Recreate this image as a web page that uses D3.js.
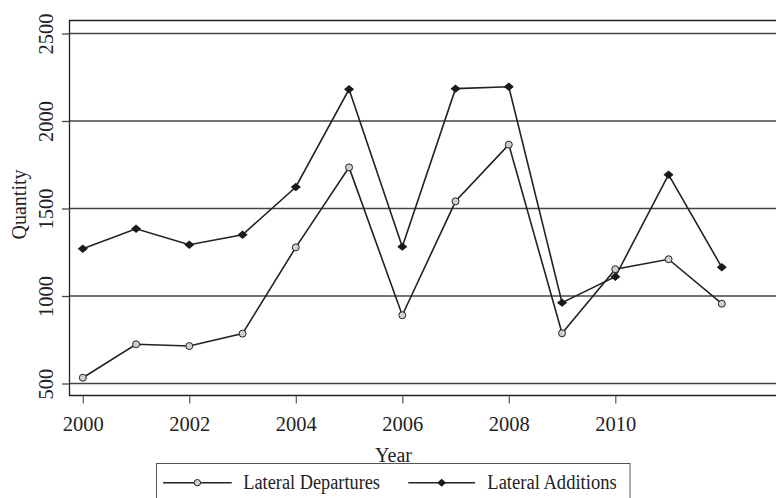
<!DOCTYPE html>
<html>
<head>
<meta charset="utf-8">
<script src="https://cdn.jsdelivr.net/npm/d3@7"></script>
<style>
  html, body { margin: 0; padding: 0; background: #fff; }
  svg text { font-family: "Liberation Serif", "Times New Roman", serif; fill: #222; }
</style>
</head>
<body>
<svg id="chart" width="776" height="498"></svg>
<script>
const years = [2000, 2001, 2002, 2003, 2004, 2005, 2006, 2007, 2008, 2009, 2010, 2011, 2012];
const lateralDepartures = [533, 724, 714, 785, 1278, 1735, 890, 1541, 1865, 787, 1153, 1210, 956];
const lateralAdditions = [1270, 1384, 1293, 1350, 1623, 2181, 1282, 2185, 2196, 962, 1110, 1693, 1164];
const xTicks = [2000, 2002, 2004, 2006, 2008, 2010];
const yTicks = [500, 1000, 1500, 2000, 2500];
const seriesNames = ["Lateral Departures", "Lateral Additions"];

const svg = d3.select("#chart");
const frame = { left: 69.5, top: 20.5, bottom: 395.5, right: 776 };

const x = d3.scaleLinear().domain([2000, 2010]).range([82.8, 615.3]);
const y = d3.scaleLinear().domain([500, 2500]).range([383.5, 33.5]);

// gridlines
svg.append("g").selectAll("line").data(yTicks).join("line")
  .attr("x1", frame.left).attr("x2", frame.right)
  .attr("y1", d => y(d)).attr("y2", d => y(d))
  .attr("stroke", "#444").attr("stroke-width", 1.3);

// frame
svg.append("path")
  .attr("d", `M${frame.right},${frame.top}H${frame.left}V${frame.bottom}H${frame.right}`)
  .attr("fill", "none").attr("stroke", "#222").attr("stroke-width", 1.3);

// y axis
const yAxis = d3.axisLeft(y).tickValues(yTicks).tickSize(7.5).tickPadding(0).tickFormat(d3.format("d"));
const gy = svg.append("g").attr("transform", `translate(${frame.left},0)`).call(yAxis);
gy.select(".domain").remove();
gy.selectAll(".tick line").attr("stroke", "#444").attr("stroke-width", 1.3);
gy.selectAll(".tick text")
  .attr("x", 0).attr("dy", null).attr("y", 0)
  .attr("transform", "translate(-16.5,0) rotate(-90)")
  .attr("text-anchor", "middle")
  .attr("font-size", 20.5).attr("font-family", "Liberation Serif").attr("fill", "#222");

// x axis
const xAxis = d3.axisBottom(x).tickValues(xTicks).tickSize(8).tickPadding(4).tickFormat(d3.format("d"));
const gx = svg.append("g").attr("transform", `translate(0,${frame.bottom})`).call(xAxis);
gx.select(".domain").remove();
gx.selectAll(".tick line").attr("stroke", "#555").attr("stroke-width", 1.2);
gx.selectAll(".tick text")
  .attr("dy", null).attr("y", 35.5)
  .attr("font-size", 20.5).attr("font-family", "Liberation Serif").attr("fill", "#222");

// axis titles
svg.append("text").attr("x", 393.5).attr("y", 461.5).attr("text-anchor", "middle")
  .attr("font-size", 20).text("Year");
svg.append("text").attr("transform", "translate(25.5,204.5) rotate(-90)")
  .attr("text-anchor", "middle").attr("font-size", 20).text("Quantity");

// lines
const line = d3.line().x((d, i) => x(years[i])).y(d => y(d));
svg.append("path").datum(lateralDepartures).attr("d", line)
  .attr("fill", "none").attr("stroke", "#222").attr("stroke-width", 1.6);
svg.append("path").datum(lateralAdditions).attr("d", line)
  .attr("fill", "none").attr("stroke", "#222").attr("stroke-width", 1.6);

// markers
const diamond = d3.symbol().type(d3.symbolDiamond2).size(56);
svg.append("g").selectAll("circle").data(lateralDepartures).join("circle")
  .attr("cx", (d, i) => x(years[i])).attr("cy", d => y(d)).attr("r", 3.5)
  .attr("fill", "#d0d0d0").attr("stroke", "#222").attr("stroke-width", 1);
svg.append("g").selectAll("path").data(lateralAdditions).join("path")
  .attr("d", diamond)
  .attr("transform", (d, i) => `translate(${x(years[i])},${y(d)}) scale(1.08,0.9)`)
  .attr("fill", "#1a1a1a");

// legend
const lg = svg.append("g");
lg.append("rect").attr("x", 156.5).attr("y", 463.5).attr("width", 473.5).attr("height", 50)
  .attr("fill", "#fff").attr("stroke", "#555").attr("stroke-width", 1);
const legendItems = [
  { name: seriesNames[0], x0: 163, x1: 231.7, tx: 243.3, tl: 136.7, type: "circle" },
  { name: seriesNames[1], x0: 408.3, x1: 475, tx: 487.3, tl: 129.4, type: "diamond" }
];
const ly = 482.7;
legendItems.forEach(it => {
  lg.append("line").attr("x1", it.x0).attr("x2", it.x1).attr("y1", ly).attr("y2", ly)
    .attr("stroke", "#222").attr("stroke-width", 1.6);
  const mx = (it.x0 + it.x1) / 2;
  if (it.type === "circle") {
    lg.append("circle").attr("cx", mx).attr("cy", ly).attr("r", 3.2)
      .attr("fill", "#d0d0d0").attr("stroke", "#222").attr("stroke-width", 1);
  } else {
    lg.append("path").attr("d", d3.symbol().type(d3.symbolDiamond2).size(46))
      .attr("transform", `translate(${mx},${ly}) scale(1.05,0.95)`).attr("fill", "#1a1a1a");
  }
  lg.append("text").attr("x", it.tx).attr("y", ly + 6.5).attr("font-size", 20)
    .attr("textLength", it.tl).attr("lengthAdjust", "spacingAndGlyphs").text(it.name);
});
</script>
</body>
</html>
